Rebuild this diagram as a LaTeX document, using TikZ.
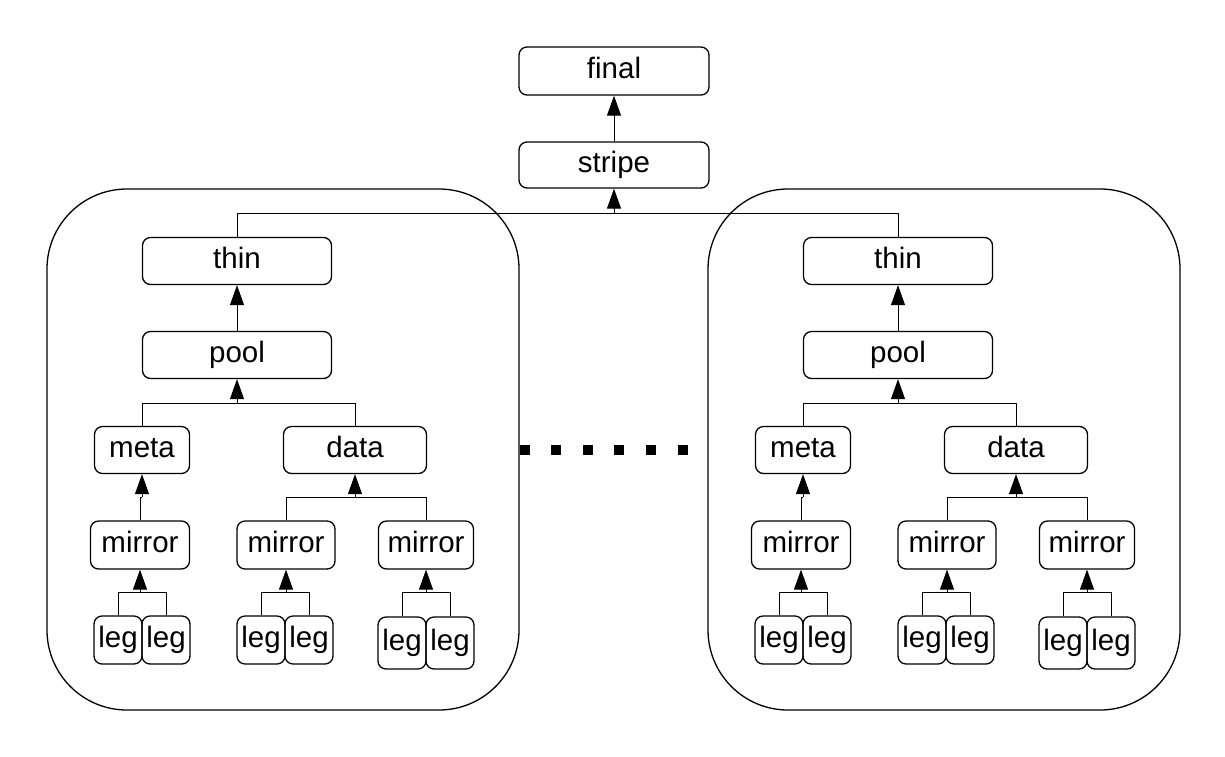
\documentclass[tikz,border=0pt]{standalone}
\usepackage{fontspec}
\setmainfont{Liberation Sans}
\usetikzlibrary{arrows.meta}
\begin{document}
\begin{tikzpicture}[x=1pt,y=-1pt,
  box/.style={draw, line width=1.3pt, rounded corners=8pt, inner sep=0pt,
    font=\fontsize{29.5}{32}\selectfont, text height=21pt, text depth=6pt},
  bigbox/.style={draw, line width=1.3pt, rounded corners=80pt, inner sep=0pt,
    minimum width=472pt, minimum height=521pt},
  conn/.style={line width=1pt},
  arr/.style={line width=1pt, -{Triangle[length=20pt,width=14pt]}}]
\useasboundingbox (0,0) rectangle (1225,756);
\node[box, minimum width=190pt, minimum height=48pt] (final) at (614,71) {final};
\node[box, minimum width=190pt, minimum height=46pt] (stripe) at (614,165) {stripe};
\draw[arr] (stripe.north) -- (final.south);
\foreach \o/\p in {0/L,661/R}{
  \node[bigbox] (\p-group) at (283+\o,449.5) {};
  \node[box, minimum width=189pt, minimum height=47pt] (\p-thin) at (237+\o,261) {thin};
  \node[box, minimum width=189pt, minimum height=47pt] (\p-pool) at (237+\o,355) {pool};
  \node[box, minimum width=95pt, minimum height=47pt] (\p-meta) at (142+\o,450) {meta};
  \node[box, minimum width=143pt, minimum height=47pt] (\p-data) at (355+\o,450) {data};
  \node[box, minimum width=99pt, minimum height=48pt] (\p-mA) at (140+\o,545) {mirror};
  \node[box, minimum width=98pt, minimum height=48pt] (\p-mB) at (286+\o,545) {mirror};
  \node[box, minimum width=95pt, minimum height=48pt] (\p-mC) at (426+\o,545) {mirror};
  \node[box, minimum width=48pt, minimum height=48pt] (\p-lA1) at (118+\o,640) {leg};
  \node[box, minimum width=48pt, minimum height=48pt] (\p-lA2) at (166+\o,640) {leg};
  \node[box, minimum width=48pt, minimum height=48pt] (\p-lB1) at (261+\o,640) {leg};
  \node[box, minimum width=48pt, minimum height=48pt] (\p-lB2) at (309+\o,640) {leg};
  \node[box, minimum width=48pt, minimum height=52pt] (\p-lC1) at (402+\o,643) {leg};
  \node[box, minimum width=48pt, minimum height=52pt] (\p-lC2) at (450+\o,643) {leg};
  % thin <- pool
  \draw[arr] (\p-pool.north) -- (\p-thin.south);
  % pool <- meta, data
  \coordinate (\p-bpool) at ([yshift=-24pt]\p-pool.south);
  \draw[conn] (\p-meta.north) |- (\p-bpool) -| (\p-data.north);
  \draw[arr] (\p-bpool) -- (\p-pool.south);
  % meta <- mirror A
  \coordinate (\p-bmeta) at ([yshift=-23pt]\p-meta.south);
  \draw[conn] (\p-mA.north) |- (\p-bmeta);
  \draw[arr] (\p-bmeta) -- (\p-meta.south);
  % data <- mirror B, C
  \coordinate (\p-bdata) at ([yshift=-23pt]\p-data.south);
  \draw[conn] (\p-mB.north) |- (\p-bdata) -| (\p-mC.north);
  \draw[arr] (\p-bdata) -- (\p-data.south);
  % mirrors <- legs
  \coordinate (\p-bmA) at ([yshift=-23pt]\p-mA.south);
  \draw[conn] (\p-lA1.north) |- (\p-bmA) -| (\p-lA2.north);
  \draw[arr] (\p-bmA) -- (\p-mA.south);
  \coordinate (\p-bmB) at ([yshift=-23pt]\p-mB.south);
  \draw[conn] (\p-lB1.north) |- (\p-bmB) -| (\p-lB2.north);
  \draw[arr] (\p-bmB) -- (\p-mB.south);
  \coordinate (\p-bmC) at ([yshift=-23pt]\p-mC.south);
  \draw[conn] (\p-lC1.north) |- (\p-bmC) -| (\p-lC2.north);
  \draw[arr] (\p-bmC) -- (\p-mC.south);
}
% stripe <- thin, thin
\coordinate (bstripe) at ([yshift=-25pt]stripe.south);
\draw[conn] (L-thin.north) |- (bstripe) -| (R-thin.north);
\draw[arr] (bstripe) -- (stripe.south);
% dots
\coordinate (dotsA) at (L-group.east);
\coordinate (dotsB) at ([xshift=-18pt]R-group.west);
\draw[line width=10pt, dash pattern=on 10pt off 21.6pt] (dotsA) -- (dotsB);
\end{tikzpicture}
\end{document}
